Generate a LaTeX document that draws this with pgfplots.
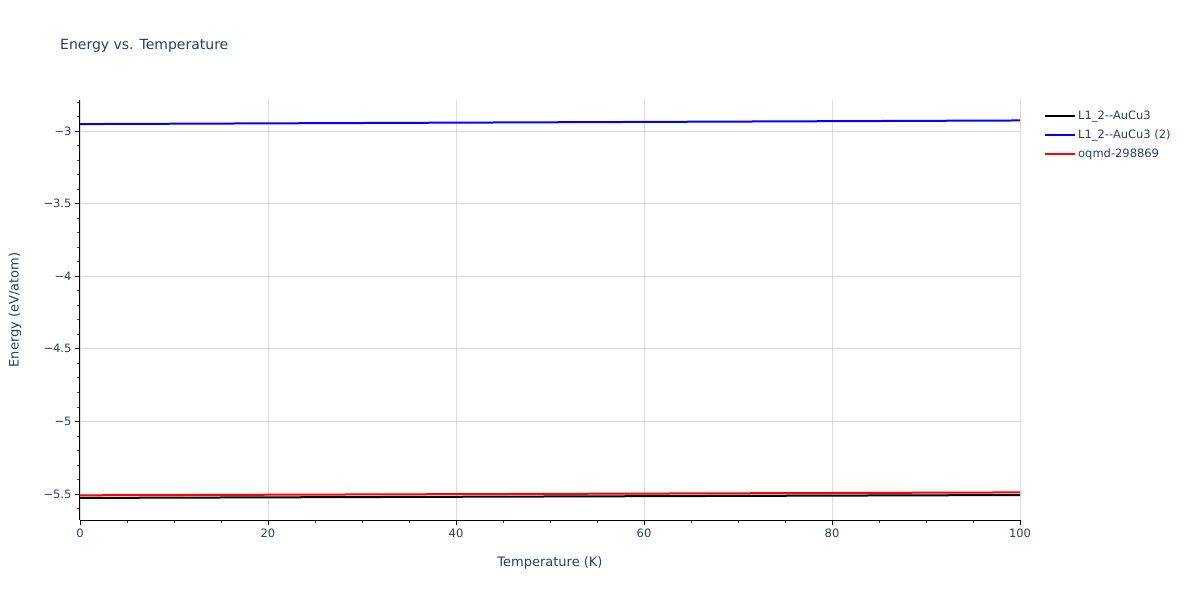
\documentclass[border=0pt]{standalone}
\usepackage{fontspec}
\setmainfont{DejaVu Sans}
\usepackage{pgfplots}
\pgfplotsset{compat=1.18}
\definecolor{plotlytext}{HTML}{2A3F5F}
\definecolor{gridgray}{HTML}{DDDDDD}
\definecolor{pblue}{HTML}{0000FF}
\definecolor{pred}{HTML}{FF0000}
\begin{document}
\begin{tikzpicture}
\path[fill=white] (0pt,0pt) rectangle (1200pt,600pt);
\node[anchor=base west, font=\fontsize{14}{16}\selectfont, text=plotlytext, inner sep=0] at (60pt,550pt) {Energy vs. Temperature};
\begin{axis}[
  at={(80pt,80pt)}, anchor=south west,
  scale only axis, width=940pt, height=420pt,
  xmin=0, xmax=100, ymin=-5.679, ymax=-2.786,
  axis lines*=left,
  axis line style={black, line width=1pt},
  xtick={0,20,40,60,80,100},
  ytick={-5.5,-5,-4.5,-4,-3.5,-3},
  yticklabels={−5.5,−5,−4.5,−4,−3.5,−3},
  minor xtick={5,10,...,95},
  minor ytick={-5.6,-5.4,-5.3,-5.2,-5.1,-4.9,-4.8,-4.7,-4.6,-4.4,-4.3,-4.2,-4.1,-3.9,-3.8,-3.7,-3.6,-3.4,-3.3,-3.2,-3.1,-2.9,-2.8},
  tick align=outside,
  major tick length=5pt, minor tick length=3pt,
  tick style={black, line width=0.8pt},
  minor tick style={black!70, line width=0.8pt},
  grid=major, major grid style={gridgray, line width=0.8pt},
  ticklabel style={font=\fontsize{11.5}{13}\selectfont, text=plotlytext},
  /pgf/number format/assume math mode=true,
  xlabel={Temperature (K)}, ylabel={Energy (eV/atom)},
  label style={font=\fontsize{13}{15}\selectfont, text=plotlytext},
  xlabel style={at={(axis description cs:0.5,-0.1024)}, anchor=center},
  ylabel style={at={(axis description cs:-0.0691,0.5)}, anchor=center},
  legend style={at={(axis description cs:1.0255,0.9786)}, anchor=north west, draw=none, fill=none,
    font=\fontsize{11.5}{13}\selectfont, text=plotlytext, inner sep=0pt,
    nodes={inner sep=2pt}, row sep=4.5pt,
    /tikz/every even column/.append style={column sep=4pt}},
  legend cell align=left,
  legend image code/.code={\draw[#1, line width=2pt] (0pt,0pt) -- (30pt,0pt);},
  clip=true,
]
\addplot[black, line width=2pt] coordinates {(0,-5.527) (20,-5.523) (40,-5.519) (60,-5.515) (80,-5.511) (100,-5.507)};
\addlegendentry{L1\_2-{}-AuCu3}
\addplot[pblue, line width=2pt] coordinates {(0,-2.952) (20,-2.947) (40,-2.942) (60,-2.937) (80,-2.932) (100,-2.927)};
\addlegendentry{L1\_2-{}-AuCu3 (2)}
\addplot[pred, line width=2pt] coordinates {(0,-5.509) (20,-5.505) (40,-5.501) (60,-5.497) (80,-5.493) (100,-5.489)};
\addlegendentry{oqmd-298869}
\end{axis}
\end{tikzpicture}
\end{document}
